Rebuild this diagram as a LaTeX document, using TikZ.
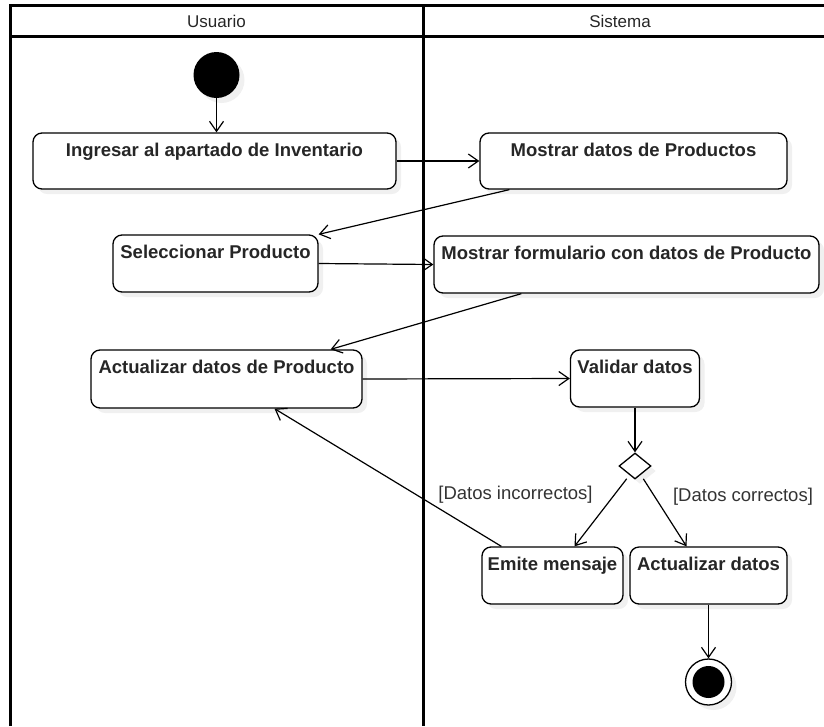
\documentclass[tikz,border=0pt]{standalone}
\usepackage{fontspec}
\setmainfont{Liberation Sans}
\usetikzlibrary{arrows.meta,shapes.geometric,shadows}

\begin{document}
\begin{tikzpicture}[x=1pt,y=-1pt,
  lane/.style={line width=3pt},
  lanetitle/.style={font=\fontsize{17}{20}\selectfont,text=black!85},
  shade/.style={drop shadow={shadow xshift=5pt,shadow yshift=-5pt,opacity=0.12}},
  act/.style={draw,rounded corners=9pt,line width=1.3pt,fill=white,inner sep=0pt,shade},
  acttext/.style={anchor=base,yshift=-24pt,font=\fontsize{18.5}{22}\selectfont\bfseries,text=black!85},
  guard/.style={font=\fontsize{18.5}{22}\selectfont,text=black!80},
  flow/.style={line width=1.2pt,-{Straight Barb[length=10pt,width=14pt]}}]
  \useasboundingbox (0,0) rectangle (824,726);

  % swimlanes
  \draw[lane] (10,726) -- (10,5) -- (824,5);
  \draw[lane] (10,36) -- (824,36);
  \draw[lane] (423,5) -- (423,726);
  \node[lanetitle] (usuario) at (216.5,21) {Usuario};
  \node[lanetitle] (sistema) at (620,21) {Sistema};

  % start and end
  \node[circle,fill=black,minimum size=46pt,inner sep=0pt,shade] (inicio) at (216.5,75) {};
  \node[circle,draw,line width=1.3pt,fill=white,minimum size=46pt,inner sep=0pt,shade] (fin) at (708.5,682) {};
  \node[circle,fill=black,minimum size=32pt,inner sep=0pt] (fincentro) at (fin) {};

  % activities, user lane
  \node[act,minimum width=363pt,minimum height=56pt,
    label={[acttext]north:Ingresar al apartado de Inventario}] (ingresar) at (214.5,161) {};
  \node[act,minimum width=205pt,minimum height=57pt,
    label={[acttext]north:Seleccionar Producto}] (seleccionar) at (215.5,263.5) {};
  \node[act,minimum width=271pt,minimum height=58pt,
    label={[acttext]north:Actualizar datos de Producto}] (actproducto) at (226.5,379) {};

  % activities, system lane
  \node[act,minimum width=307pt,minimum height=56pt,
    label={[acttext]north:Mostrar datos de Productos}] (mostrar) at (633.5,161) {};
  \node[act,minimum width=385pt,minimum height=57pt,
    label={[acttext]north:Mostrar formulario con datos de Producto}] (formulario) at (626.5,264.5) {};
  \node[act,minimum width=129pt,minimum height=57pt,
    label={[acttext]north:Validar datos}] (validar) at (635,378.5) {};
  \node[diamond,draw,line width=1.3pt,fill=white,minimum width=32pt,minimum height=26pt,
    inner sep=0pt,shade] (decision) at (635,466) {};
  \node[act,minimum width=141pt,minimum height=57pt,
    label={[acttext]north:Emite mensaje}] (emite) at (552.5,575.5) {};
  \node[act,minimum width=157pt,minimum height=57pt,
    label={[acttext]north:Actualizar datos}] (actdatos) at (708.5,575.5) {};

  % guards
  \node[guard] (incorrectos) at (515.5,495) {[Datos incorrectos]};
  \node[guard] (correctos) at (743,497) {[Datos correctos]};

  % control flow
  \draw[flow] (inicio) -- (inicio |- ingresar.north);
  \draw[flow] (ingresar.east) -- (mostrar.west);
  \draw[flow] ([xshift=30pt]mostrar.south west) -- (seleccionar.north east);
  \draw[flow] (seleccionar.east) -- (formulario.west);
  \draw[flow] ([xshift=88pt]formulario.south west) -- ([xshift=-32pt]actproducto.north east);
  \draw[flow] (actproducto.east) -- (validar.west);
  \draw[flow] (validar) -- (decision);
  \draw[flow] ([yshift=-6pt]decision.south west) -- ([xshift=22pt]emite.north);
  \draw[flow] ([yshift=-6pt]decision.south east) -- ([xshift=-22pt]actdatos.north);
  \draw[flow] ([xshift=20pt]emite.north west) -- ([xshift=48pt]actproducto.south);
  \draw[flow] (actdatos) -- (fin);
\end{tikzpicture}
\end{document}
